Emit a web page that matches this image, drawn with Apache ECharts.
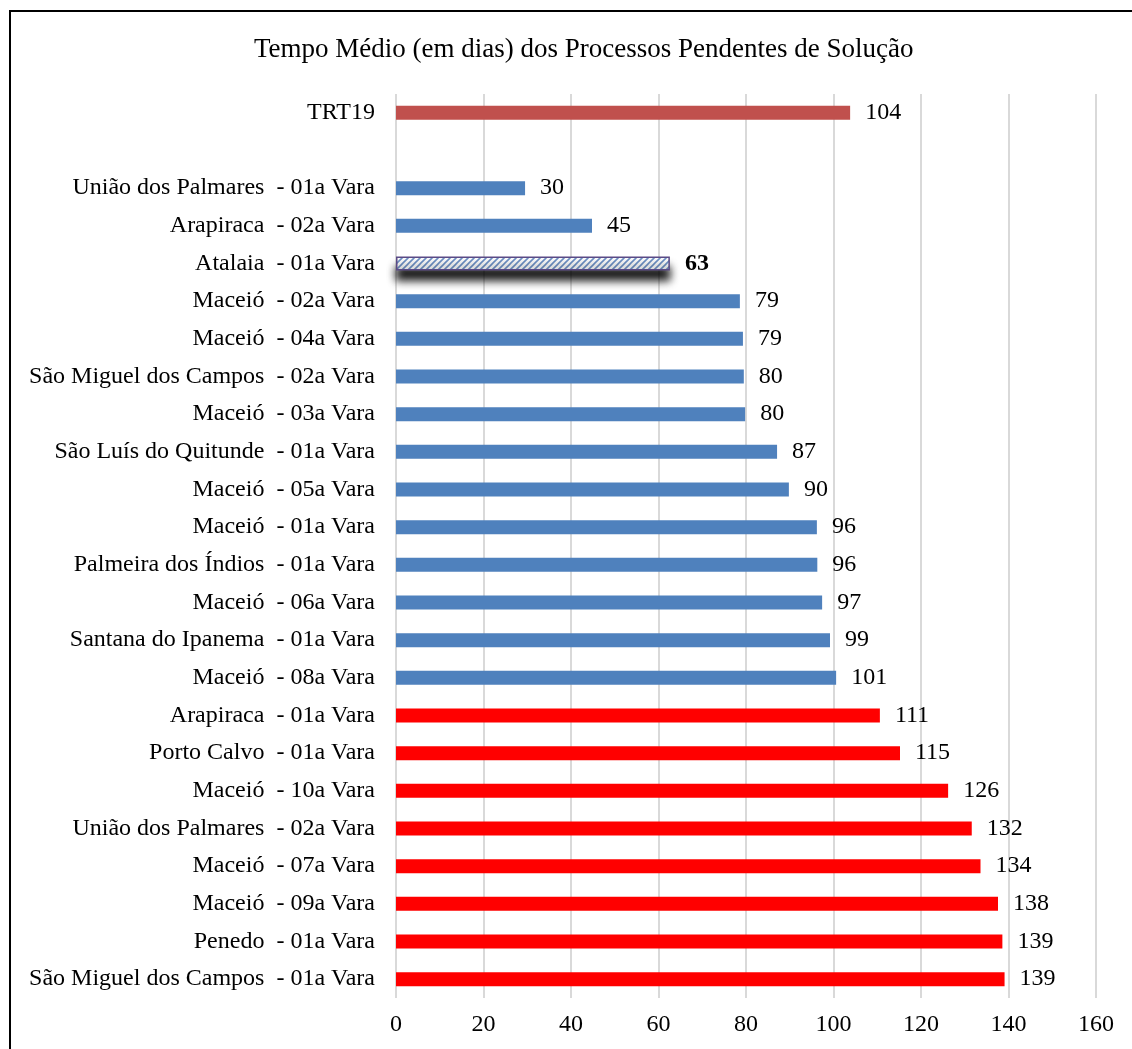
<!DOCTYPE html>
<html>
<head>
<meta charset="utf-8">
<script src="https://cdn.jsdelivr.net/npm/echarts@6/dist/echarts.min.js"></script>
<style>
  html, body { margin: 0; padding: 0; background: #fff; }
  #main { width: 1132px; height: 1049px; }
</style>
</head>
<body>
<div id="main"></div>
<script>
// categorias de cima para baixo (linha vazia separa o TRT19 das varas)
var categories = [
    'TRT19',
    '',
    'União dos Palmares  - 01a Vara',
    'Arapiraca  - 02a Vara',
    'Atalaia  - 01a Vara',
    'Maceió  - 02a Vara',
    'Maceió  - 04a Vara',
    'São Miguel dos Campos  - 02a Vara',
    'Maceió  - 03a Vara',
    'São Luís do Quitunde  - 01a Vara',
    'Maceió  - 05a Vara',
    'Maceió  - 01a Vara',
    'Palmeira dos Índios  - 01a Vara',
    'Maceió  - 06a Vara',
    'Santana do Ipanema  - 01a Vara',
    'Maceió  - 08a Vara',
    'Arapiraca  - 01a Vara',
    'Porto Calvo  - 01a Vara',
    'Maceió  - 10a Vara',
    'União dos Palmares  - 02a Vara',
    'Maceió  - 07a Vara',
    'Maceió  - 09a Vara',
    'Penedo  - 01a Vara',
    'São Miguel dos Campos  - 01a Vara'
];
// tempo médio em dias
var values = [
    103.8, null, 29.5, 44.8, 62.6, 78.6, 79.3, 79.5, 79.8, 87.1, 89.8, 96.2,
    96.3, 97.4, 99.2, 100.6, 110.6, 115.2, 126.2, 131.6, 133.6, 137.6, 138.6, 139.1
];
// grupo de cor: 't' = tribunal, 'b' = abaixo da média, 'h' = destaque, 'r' = acima da média
var groups = ['t', '', 'b', 'b', 'h', 'b', 'b', 'b', 'b', 'b', 'b', 'b',
    'b', 'b', 'b', 'b', 'r', 'r', 'r', 'r', 'r', 'r', 'r', 'r'];
var xTicks = [0, 20, 40, 60, 80, 100, 120, 140, 160];

var FONT = '"Liberation Serif", "Times New Roman", serif';

// hachura diagonal para a barra em destaque
function hatchPattern() {
    var c = document.createElement('canvas');
    c.width = 6;
    c.height = 6;
    var ctx = c.getContext('2d');
    ctx.fillStyle = '#ffffff';
    ctx.fillRect(0, 0, 6, 6);
    ctx.strokeStyle = '#6f93c8';
    ctx.lineWidth = 1.6;
    ctx.beginPath();
    ctx.moveTo(0, 6); ctx.lineTo(6, 0);
    ctx.moveTo(-3, 3); ctx.lineTo(3, -3);
    ctx.moveTo(3, 9); ctx.lineTo(9, 3);
    ctx.stroke();
    return c;
}

var colorMap = { t: '#C0504D', b: '#4F81BD', r: '#FF0000' };

var seriesData = [];
for (var i = 0; i < values.length; i++) {
    if (values[i] === null) {
        seriesData.push('-');
        continue;
    }
    var item = { value: values[i], itemStyle: { color: colorMap[groups[i]] } };
    if (groups[i] === 'h') {
        item.itemStyle = {
            color: { image: hatchPattern(), repeat: 'repeat' },
            borderColor: '#5A4A86',
            borderWidth: 1.5,
            shadowColor: 'rgba(0,0,0,0.95)',
            shadowBlur: 9,
            shadowOffsetY: 10,
            shadowOffsetX: 0
        };
        item.label = { fontWeight: 'bold' };
    }
    seriesData.push(item);
}

var chart = echarts.init(document.getElementById('main'));
var option = {
    backgroundColor: '#ffffff',
    animation: false,
    textStyle: { fontFamily: FONT },
    title: {
        text: 'Tempo Médio (em dias) dos Processos Pendentes de Solução',
        left: 249,
        top: 31,
        textStyle: { fontFamily: FONT, fontSize: 27, fontWeight: 'normal', color: '#000' }
    },
    grid: { left: 396, right: 36, top: 94, bottom: 51, containLabel: false },
    xAxis: {
        type: 'value',
        min: 0,
        max: 160,
        interval: 20,
        axisLine: { show: false },
        axisTick: { show: false },
        axisLabel: {
            fontFamily: FONT, fontSize: 24, color: '#000', margin: 15,
            formatter: function (v) { return xTicks.indexOf(v) >= 0 ? String(v) : ''; }
        },
        splitLine: { show: true, lineStyle: { color: '#d9d9d9', width: 2 } }
    },
    yAxis: {
        type: 'category',
        inverse: true,
        data: categories,
        axisLine: { show: false },
        axisTick: { show: false },
        axisLabel: { fontFamily: FONT, fontSize: 24, color: '#000', margin: 21 }
    },
    series: [{
        type: 'bar',
        barWidth: 14,
        data: seriesData,
        label: {
            show: true,
            position: 'right',
            distance: 15,
            fontFamily: FONT,
            fontSize: 24,
            color: '#000',
            formatter: function (p) { return Math.round(p.value); }
        }
    }],
    graphic: [{
        type: 'polyline',
        silent: true,
        shape: { points: [[10, 1049], [10, 11], [1132, 11]] },
        style: { stroke: '#000', lineWidth: 2, fill: null }
    }]
};
chart.setOption(option);
</script>
</body>
</html>
